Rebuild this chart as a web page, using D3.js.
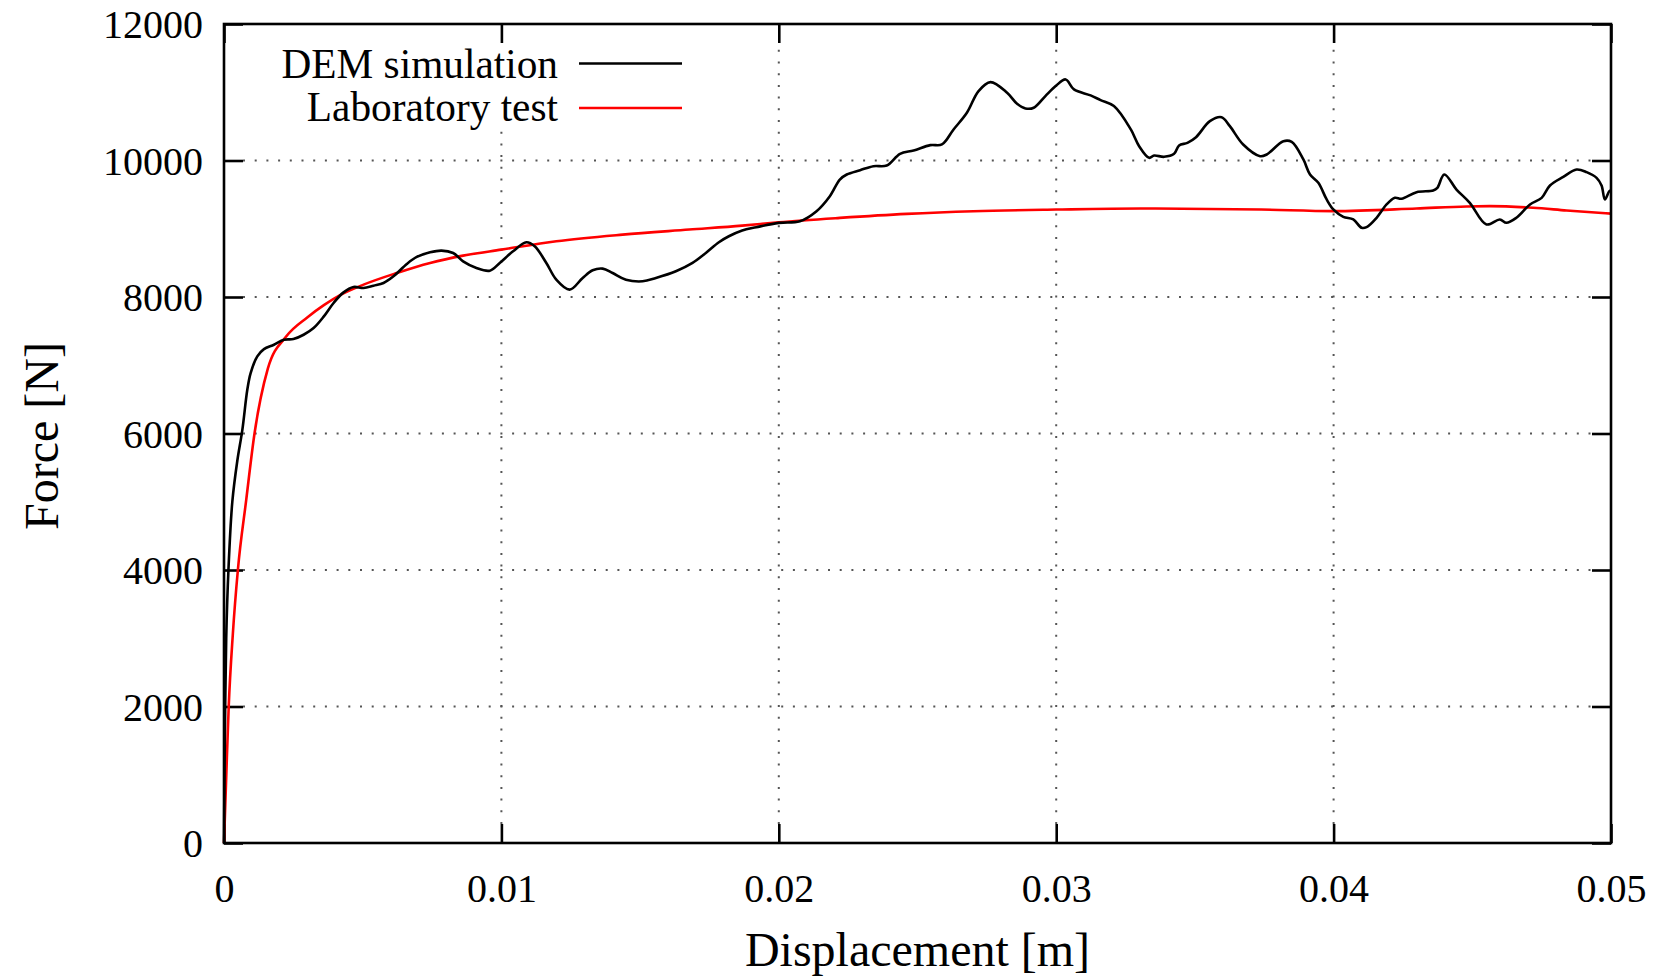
<!DOCTYPE html>
<html lang="en">

<head>
    <meta charset="UTF-8">
    <title>Force vs Displacement</title>
    <script src="https://d3js.org/d3.v7.min.js"></script>
    <style>
        body {
            margin: 0;
            background: #fff;
        }

        text {
            font-family: "Liberation Serif", "Times New Roman", serif;
            fill: #000;
        }

        .grid line {
            stroke: #555;
            stroke-width: 2;
            stroke-dasharray: 2 9.7;
        }

        .frame {
            fill: none;
            stroke: #000;
            stroke-width: 2.6;
        }
    </style>
</head>

<body>
    <svg></svg>
</body>

<script>
    // Tick values and labels
    const xTicks = [0, 0.01, 0.02, 0.03, 0.04, 0.05];
    const xTickLabels = ["0", "0.01", "0.02", "0.03", "0.04", "0.05"];
    const yTicks = [0, 2000, 4000, 6000, 8000, 10000, 12000];
    const yTickLabels = ["0", "2000", "4000", "6000", "8000", "10000", "12000"];

    // DEM simulation
    const demX = [0, 0.00003, 0.00008, 0.00016, 0.0003, 0.00048, 0.00066, 0.00084, 0.00096, 0.0012, 0.00144,
        0.0018, 0.00216, 0.0025, 0.00287, 0.00323, 0.0036, 0.00395, 0.00431, 0.00467, 0.00503, 0.00539, 0.00575,
        0.00611, 0.00659, 0.00695, 0.00743, 0.00784, 0.00826, 0.00862, 0.0091, 0.00958, 0.00994, 0.01042, 0.0109,
        0.0112, 0.01162, 0.01198, 0.01246, 0.01293, 0.01329, 0.01365, 0.01401, 0.01449, 0.01509, 0.01557, 0.01629,
        0.01689, 0.01737, 0.01784, 0.0182, 0.01868, 0.01919, 0.02, 0.02076, 0.02136, 0.02184, 0.0222, 0.02245,
        0.02293, 0.02341, 0.02389, 0.02437, 0.02486, 0.02546, 0.02588, 0.0263, 0.02678, 0.0272, 0.02763, 0.02823,
        0.02859, 0.02889, 0.02919, 0.02961, 0.02998, 0.03034, 0.03064, 0.03124, 0.0316, 0.03208, 0.03269, 0.03299,
        0.03335, 0.03353, 0.03389, 0.03425, 0.03443, 0.03473, 0.03504, 0.03554, 0.03596, 0.03626, 0.03674, 0.03735,
        0.03759, 0.03819, 0.03849, 0.03891, 0.03915, 0.03945, 0.03975, 0.03999, 0.04035, 0.04071, 0.04101, 0.04119,
        0.04155, 0.04191, 0.04221, 0.04245, 0.04299, 0.04359, 0.04374, 0.04399, 0.04443, 0.04491, 0.04551, 0.04599,
        0.04623, 0.04659, 0.04708, 0.0475, 0.0478, 0.04828, 0.04876, 0.04912, 0.04948, 0.04966, 0.04978, 0.04994, 0.05];
    const demF = [0, 1500, 3000, 4000, 5000, 5600, 6050, 6640, 6885, 7130, 7237,
        7300, 7374, 7384, 7447, 7545, 7716, 7912, 8068, 8147, 8132, 8166, 8205,
        8303, 8484, 8587, 8655, 8680, 8645, 8523, 8425, 8386, 8499, 8670, 8802,
        8743, 8499, 8254, 8108, 8279, 8391, 8416, 8352, 8254, 8230, 8279, 8377,
        8499, 8645, 8802, 8890, 8975, 9022, 9086, 9110, 9257, 9477, 9721, 9795,
        9858, 9917, 9927, 10098, 10147, 10225, 10235, 10455, 10699, 11017, 11149, 10993,
        10831, 10763, 10773, 10944, 11090, 11188, 11042, 10954, 10885, 10797, 10455, 10210,
        10039, 10073, 10054, 10098, 10220, 10259, 10342, 10576, 10634, 10503, 10234, 10063,
        10088, 10283, 10273, 10015, 9795, 9673, 9429, 9283, 9175, 9136, 9014, 9024,
        9161, 9356, 9453, 9439, 9536, 9561, 9600, 9795, 9575, 9380, 9063, 9136,
        9087, 9161, 9356, 9453, 9634, 9761, 9868, 9829, 9746, 9634, 9429, 9551, 9560];

    // Laboratory test
    const labX = [0, 0.00008, 0.00017, 0.00032, 0.0005, 0.0008, 0.0011, 0.00158, 0.00224, 0.003, 0.0036,
        0.0042, 0.00503, 0.00623, 0.00743, 0.00862, 0.01, 0.01198, 0.01437, 0.01677, 0.01868, 0.02, 0.0222,
        0.02461, 0.02702, 0.03, 0.03305, 0.03739, 0.04, 0.04299, 0.04479, 0.04563, 0.04719, 0.0484, 0.05];
    const labF = [0, 965, 2000, 3070, 4000, 5024, 6000, 6950, 7420, 7700, 7880,
        8030, 8181, 8352, 8499, 8606, 8694, 8817, 8914, 8988, 9046, 9095, 9159,
        9218, 9257, 9281, 9296, 9281, 9258, 9297, 9327, 9331, 9307, 9268, 9222];

    const seriesNames = ["DEM simulation", "Laboratory test"];
    const seriesColors = ["#000000", "#ff0000"];

    const margin = { top: 24, right: 56, bottom: 137, left: 224 },
        width = 1667 - margin.left - margin.right,
        height = 980 - margin.top - margin.bottom;
    const tickLen = 19;

    const root = d3.select("svg")
        .attr("width", 1667)
        .attr("height", 980);

    const svg = root.append("g")
        .attr("transform", `translate(${margin.left},${margin.top})`);

    const x = d3.scaleLinear().domain([0, 0.05]).range([0, width]);
    const y = d3.scaleLinear().domain([0, 12000]).range([height, 0]);

    // dotted grid between the inward ticks
    const grid = svg.append("g").attr("class", "grid");
    grid.selectAll(".gx")
        .data(xTicks.slice(1, -1))
        .enter().append("line")
        .attr("x1", d => x(d)).attr("x2", d => x(d))
        .attr("y1", height - tickLen).attr("y2", tickLen);
    grid.selectAll(".gy")
        .data(yTicks.slice(1, -1))
        .enter().append("line")
        .attr("y1", d => y(d)).attr("y2", d => y(d))
        .attr("x1", tickLen).attr("x2", width - tickLen);

    // legend box hides the grid behind it
    svg.append("rect")
        .attr("x", 30).attr("y", 8)
        .attr("width", 440).attr("height", 98)
        .attr("fill", "#fff");

    // axes with inward ticks on all four sides
    const tickStyle = g => {
        g.select(".domain").remove();
        g.selectAll(".tick line").attr("stroke", "#000").attr("stroke-width", 2.6);
    };
    svg.append("g")
        .attr("transform", `translate(0,${height})`)
        .call(d3.axisBottom(x).tickValues(xTicks).tickSize(-tickLen).tickPadding(0)
            .tickFormat((d, i) => xTickLabels[i]))
        .call(tickStyle)
        .call(g => g.selectAll(".tick text")
            .attr("y", 59).attr("dy", 0)
            .style("font-size", "40px").style("font-family", "Liberation Serif"));
    svg.append("g")
        .call(d3.axisTop(x).tickValues(xTicks).tickSize(-tickLen).tickFormat(""))
        .call(tickStyle);
    svg.append("g")
        .call(d3.axisLeft(y).tickValues(yTicks).tickSize(-tickLen).tickPadding(0)
            .tickFormat((d, i) => yTickLabels[i]))
        .call(tickStyle)
        .call(g => g.selectAll(".tick text")
            .attr("x", -21).attr("dy", "0.34em")
            .style("font-size", "40px").style("font-family", "Liberation Serif"));
    svg.append("g")
        .attr("transform", `translate(${width},0)`)
        .call(d3.axisRight(y).tickValues(yTicks).tickSize(-tickLen).tickFormat(""))
        .call(tickStyle);

    // curves
    const demLine = d3.line()
        .x(d => x(d[0]))
        .y(d => y(d[1]))
        .curve(d3.curveCatmullRom.alpha(0.5));
    const labLine = d3.line()
        .x(d => x(d[0]))
        .y(d => y(d[1]))
        .curve(d3.curveMonotoneX);

    svg.append("path")
        .datum(labX.map((v, i) => [v, labF[i]]))
        .attr("fill", "none")
        .attr("stroke", seriesColors[1])
        .attr("stroke-width", 2.6)
        .attr("d", labLine);

    svg.append("path")
        .datum(demX.map((v, i) => [v, demF[i]]))
        .attr("fill", "none")
        .attr("stroke", seriesColors[0])
        .attr("stroke-width", 2.6)
        .attr("stroke-linejoin", "round")
        .attr("d", demLine);

    svg.append("rect")
        .attr("class", "frame")
        .attr("width", width)
        .attr("height", height);

    // legend
    const legend = svg.append("g");
    seriesNames.forEach((name, i) => {
        legend.append("text")
            .attr("x", 334)
            .attr("y", 53.5 + i * 43.5)
            .attr("text-anchor", "end")
            .style("font-size", "41.3px")
            .text(name);
        legend.append("line")
            .attr("x1", 355).attr("x2", 458)
            .attr("y1", 39.5 + i * 44.5).attr("y2", 39.5 + i * 44.5)
            .attr("stroke", seriesColors[i])
            .attr("stroke-width", 2.6);
    });

    // axis titles
    svg.append("text")
        .attr("x", width / 2)
        .attr("y", 942)
        .attr("text-anchor", "middle")
        .style("font-size", "48px")
        .text("Displacement [m]");

    svg.append("text")
        .attr("transform", `translate(${58 - margin.left},${436 - margin.top}) rotate(-90)`)
        .attr("text-anchor", "middle")
        .style("font-size", "48px")
        .text("Force [N]");
</script>

</html>
